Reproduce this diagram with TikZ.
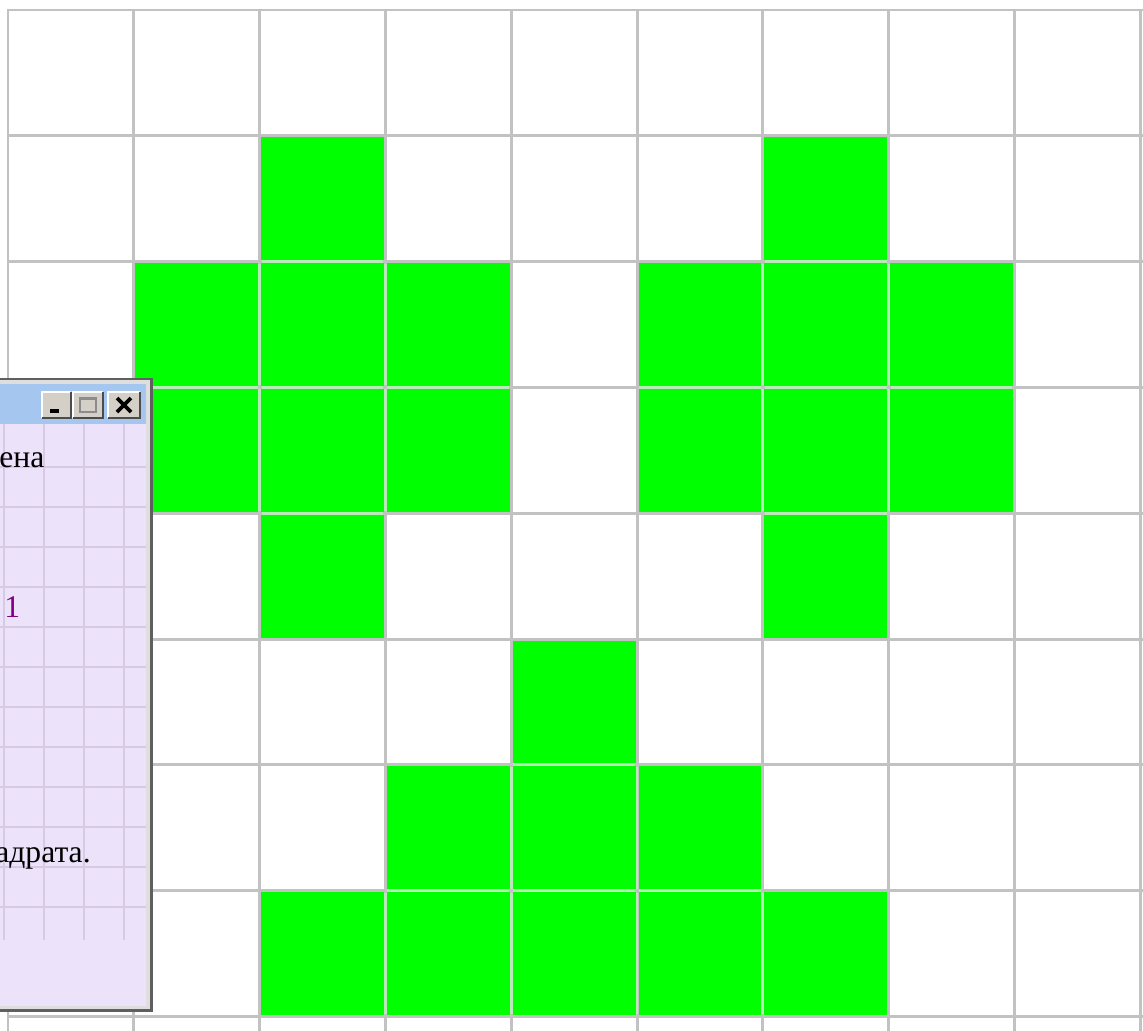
\documentclass[tikz,border=0pt]{standalone}
\usepackage{fontspec}
\setmainfont{Liberation Serif}
\definecolor{cellgreen}{RGB}{0,255,0}
\definecolor{gridgray}{RGB}{194,194,194}
\definecolor{sharedline}{RGB}{185,232,185}
\definecolor{winbody}{RGB}{236,226,250}
\definecolor{wingrid}{RGB}{216,202,228}
\definecolor{titleblue}{RGB}{165,198,238}
\definecolor{btnface}{RGB}{212,208,200}
\definecolor{frameDark}{RGB}{95,95,95}
\definecolor{frameLight}{RGB}{222,222,222}
\definecolor{numpurple}{RGB}{128,0,128}
\tikzset{
  gridline/.style={draw=gridgray, line width=1.7pt, line cap=rect},
  sharedseg/.style={draw=sharedline, line width=1.5pt},
  greencell/.style={fill=cellgreen},
  wingridline/.style={draw=wingrid, line width=0.6pt},
  btnbox/.style={fill=btnface},
  btnhi/.style={draw=white, line width=0.9pt},
  btnlo/.style={draw=black!70, line width=0.9pt},
  wintext/.style={inner sep=0pt, font=\fontsize{18}{21}\selectfont, text=black},
  numtext/.style={inner sep=0pt, font=\fontsize{18}{21}\selectfont, text=numpurple}
}
\begin{document}
\begin{tikzpicture}[x=0.02cm,y=-0.02cm]
\useasboundingbox (0,0) rectangle (1143,1031);
\fill[white] (0,0) rectangle (1143,1031);
% green cells (column, row)
\foreach \c/\r in {2/1,6/1,
  1/2,2/2,3/2,5/2,6/2,7/2,
  1/3,2/3,3/3,5/3,6/3,7/3,
  2/4,6/4,
  4/5,
  3/6,4/6,5/6,
  2/7,3/7,4/7,5/7,6/7}
  \fill[greencell] ({8+\c*125.8},{10+\r*125.8}) rectangle +(125.8,125.8);
% grid
\foreach \i in {0,...,9}
  \draw[gridline] ({8+\i*125.8},10) -- ({8+\i*125.8},1035);
\foreach \j in {0,...,8}
  \draw[gridline] (8,{10+\j*125.8}) -- (1141,{10+\j*125.8});
% lighter lines between neighbouring green cells
\foreach \c/\r in {2/2,3/2,6/2,7/2,2/3,3/3,6/3,7/3,4/6,5/6,3/7,4/7,5/7,6/7}
  \draw[sharedseg] ({8+\c*125.8},{12+\r*125.8}) -- ++(0,121.8);
\foreach \c/\r in {2/2,6/2,1/3,2/3,3/3,5/3,6/3,7/3,2/4,6/4,4/6,3/7,4/7,5/7}
  \draw[sharedseg] ({10+\c*125.8},{10+\r*125.8}) -- ++(121.8,0);
% window
\fill[frameDark] (-5,378) rectangle (153,1012);
\fill[frameLight] (-5,380) rectangle (150,1009);
\fill[titleblue] (-5,384) rectangle (146,424);
\fill[winbody] (-5,424) rectangle (146,1006);
\foreach \x in {4,44,84,124}
  \draw[wingridline] (\x,424) -- (\x,940);
\foreach \y in {467,507,...,907}
  \draw[wingridline] (-5,\y) -- (146,\y);
% buttons
\foreach \a/\b in {42/71,73/103,108/140}{
  \fill[btnbox] (\a,392) rectangle (\b,418);
  \draw[btnhi] (\a,418) -- (\a,392) -- (\b,392);
  \draw[btnlo] (\a,418) -- (\b,418) -- (\b,392);
}
\fill[black] (50,409) rectangle (59,412.5);
\draw[black!45, line width=0.8pt] (80,398) rectangle (96,412);
\draw[black!45, line width=1.6pt] (80,399) -- (96,399);
\draw[black, line width=2.2pt] (117,398) -- (131,412);
\draw[black, line width=2.2pt] (117,412) -- (131,398);
% texts
\node[wintext, anchor=base west] (t1) at (-1,467) {ена};
\node[numtext, anchor=base west] (t2) at (4,617) {1};
\node[wintext, anchor=base west] (t3) at (-5,862) {адрата.};
\end{tikzpicture}
\end{document}
